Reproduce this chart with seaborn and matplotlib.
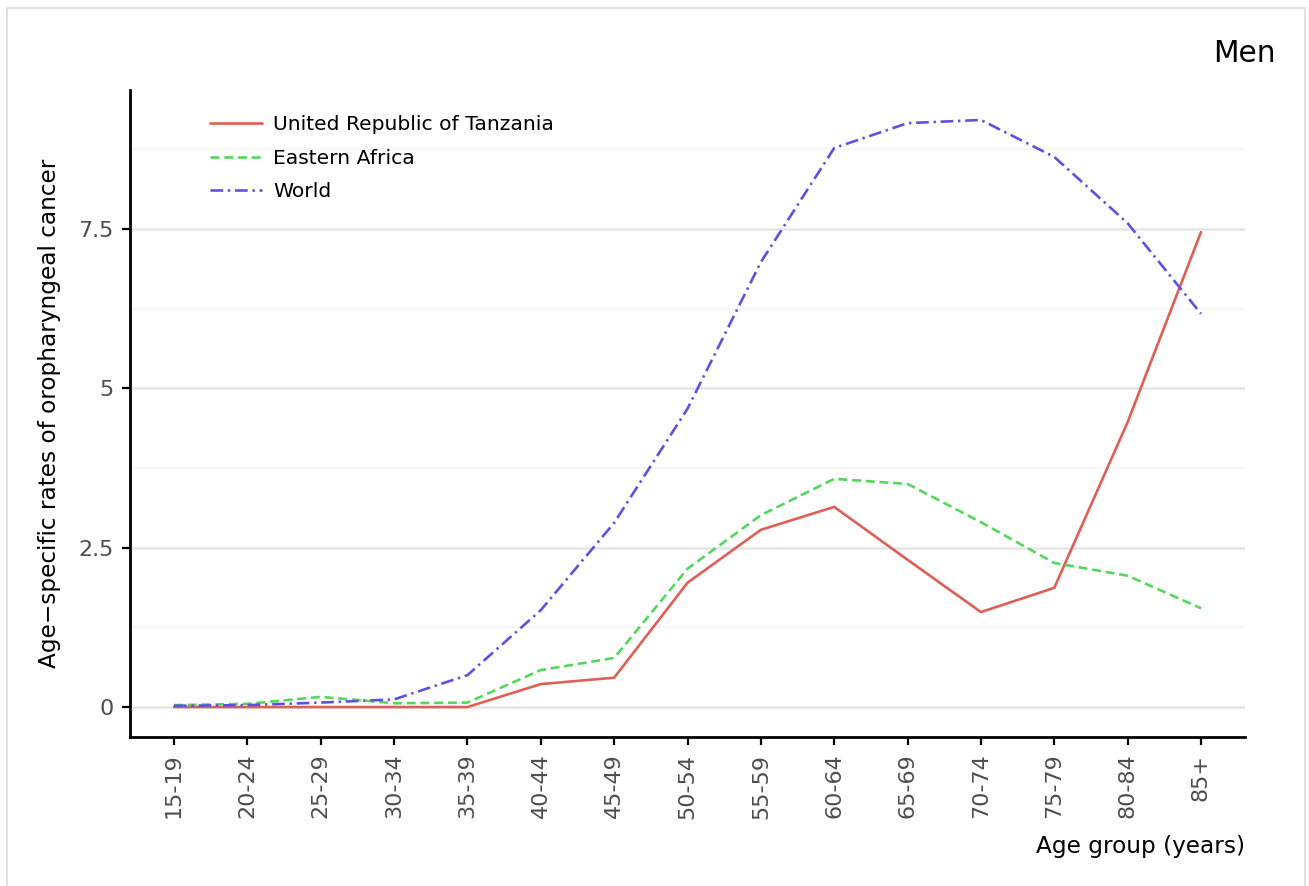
import numpy as np
import pandas as pd
import matplotlib
matplotlib.use("Agg")
import matplotlib.pyplot as plt
import seaborn as sns
from matplotlib.patches import Rectangle

age_groups = ["15-19", "20-24", "25-29", "30-34", "35-39", "40-44", "45-49",
              "50-54", "55-59", "60-64", "65-69", "70-74", "75-79", "80-84", "85+"]
tanzania = [0.0, 0.0, 0.0, 0.0, 0.0, 0.36, 0.46, 1.95, 2.78, 3.14, 2.31, 1.49, 1.87, 4.47, 7.45]
eastern_africa = [0.03, 0.05, 0.16, 0.06, 0.07, 0.58, 0.77, 2.17, 3.01, 3.58, 3.50, 2.90, 2.26, 2.06, 1.55]
world = [0.02, 0.03, 0.07, 0.12, 0.50, 1.52, 2.89, 4.68, 6.98, 8.77, 9.16, 9.21, 8.63, 7.59, 6.17]
series_names = ["United Republic of Tanzania", "Eastern Africa", "World"]
colors = ["#DE5F56", "#55D75C", "#5D52E0"]
yticks = [0, 2.5, 5, 7.5]
ytick_labels = ["0", "2.5", "5", "7.5"]

df = pd.DataFrame({
    "age": age_groups * 3,
    "rate": tanzania + eastern_africa + world,
    "region": [series_names[0]] * 15 + [series_names[1]] * 15 + [series_names[2]] * 15,
})

sns.set_theme(style="white")
plt.rcParams["font.family"] = ["DejaVu Sans"]

W, H = 1309, 886
fig = plt.figure(figsize=(W / 100, H / 100), dpi=100)
ax = fig.add_axes([130 / W, 1 - 737 / H, (1245 - 130) / W, (737 - 90) / H])

LW = 1.9
sns.lineplot(data=df, x="age", y="rate", hue="region", style="region",
             palette=colors, dashes=["", (3.4, 1.8), (4.8, 1.8, 0.9, 1.8)],
             hue_order=series_names, style_order=series_names,
             linewidth=LW, ax=ax, sort=False)

ax.set_xlim(-0.6, 14.6)
ax.set_ylim(-0.47, 9.68)

# gridlines
for v in [1.25, 3.75, 6.25, 8.75]:
    ax.axhline(v, color="#f7f7f7", lw=1.6, zorder=0)
for v in yticks:
    ax.axhline(v, color="#e6e6e6", lw=1.8, zorder=0)
ax.grid(False)

ax.set_yticks(yticks)
ax.set_yticklabels(ytick_labels)
ax.set_xticks(range(len(age_groups)))
ax.set_xticklabels(age_groups, rotation=90)
ax.tick_params(axis="both", colors="black", labelcolor="#4d4d4d", labelsize=16,
               length=6, width=1.6, direction="out", bottom=True, left=True)
ax.tick_params(axis="x", pad=6)
ax.tick_params(axis="y", pad=6)

for s in ["top", "right"]:
    ax.spines[s].set_visible(False)
for s in ["left", "bottom"]:
    ax.spines[s].set_color("black")
    ax.spines[s].set_linewidth(2.0)

ax.set_xlabel("Age group (years)", fontsize=16.7, color="black", ha="right", va="center")
ax.xaxis.set_label_coords(1.0, -(846 - 737) / (737 - 90))
ax.set_ylabel("Age\u2212specific rates of oropharyngeal cancer", fontsize=16.7,
              color="black", va="center")
ax.yaxis.set_label_coords(-(130 - 50) / (1245 - 130), 0.5)

leg = ax.legend(title=None, frameon=False, loc="upper left",
                bbox_to_anchor=((210 - 130) / 1115, (737 - 115) / 647),
                fontsize=14.6, handlelength=2.56, handletextpad=0.54,
                labelspacing=0.72, borderaxespad=0, borderpad=0)
for line in leg.get_lines():
    line.set_linewidth(LW)
for t in leg.get_texts():
    t.set_color("black")

fig.text(1276 / W, 1 - 54 / H, "Men", ha="right", va="center", fontsize=21.3, color="black")

fig.patches.append(Rectangle((7 / W, -0.01), (1305 - 7) / W, 1 - 8 / H + 0.01,
                             transform=fig.transFigure, fill=False,
                             edgecolor="#dcdcdc", lw=1.2))

fig.savefig("out.png", dpi=100, facecolor="white")
